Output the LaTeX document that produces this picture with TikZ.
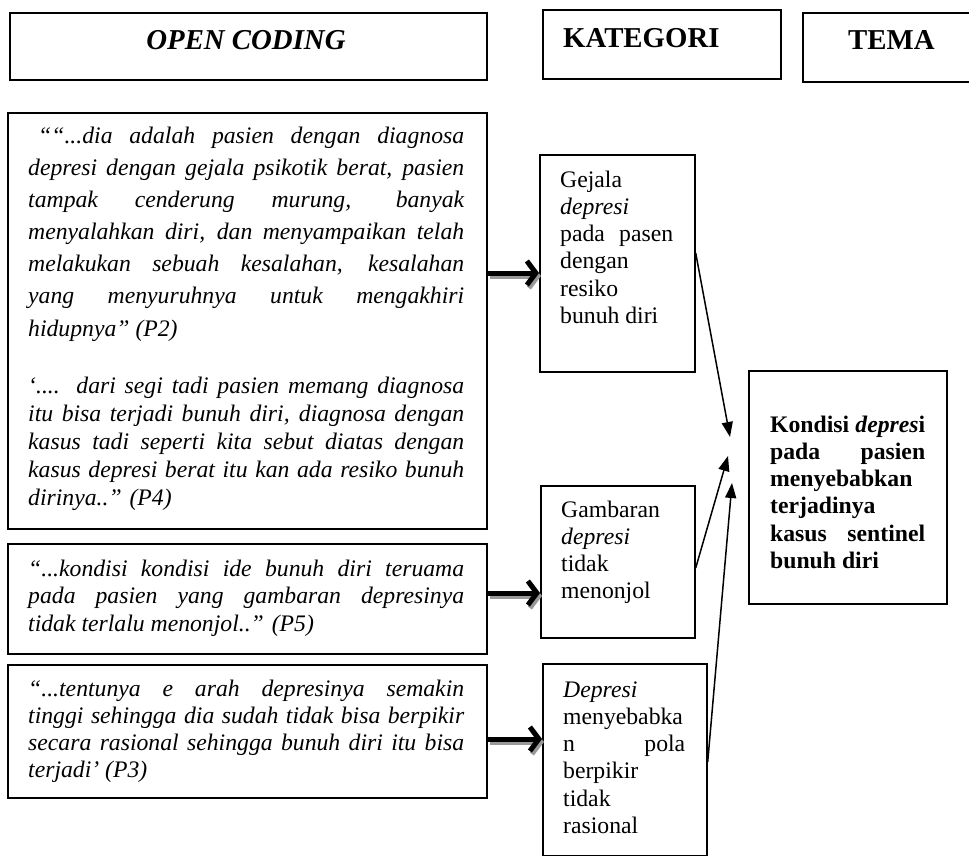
\documentclass[tikz,border=0pt]{standalone}
\usepackage{fontspec}
\setmainfont{Liberation Serif}
\usetikzlibrary{arrows.meta}
\newcommand{\J}[2]{\makebox[#1][s]{#2}}
\begin{document}
\begin{tikzpicture}[x=1pt,y=-1pt,
  box/.style={draw, line width=1.7pt, inner sep=0pt, anchor=north west},
  txt/.style={anchor=base west, inner sep=0pt},
  head/.style={inner sep=0pt, font=\fontsize{28.8}{30}\selectfont\bfseries},
  fatarrow/.style={line width=5pt, -{Straight Barb[length=9pt,width=24pt]}},
  fatshadow/.style={fatarrow, draw=black!40, transform canvas={shift={(2pt,-3pt)}}},
  slimarrow/.style={line width=1.5pt, -{Triangle[length=15pt,width=11pt]}}]
\useasboundingbox (0,0) rectangle (969,856);

% headers
\node[box, minimum width=477pt, minimum height=67pt] (hopen) at (9,12) {};
\node[box, minimum width=238pt, minimum height=69pt] (hkat) at (542,9) {};
\node[box, minimum width=180pt, minimum height=69pt] (htema) at (802,12) {};
\node[head, anchor=base] (topen) at (246,50) {\itshape OPEN CODING};
\node[head, anchor=base west] (tkat) at (563,48) {KATEGORI};
\node[head, anchor=base west] (ttema) at (848,50) {TEMA};

% left boxes
\node[box, minimum width=479pt, minimum height=416pt] (box1) at (7,112) {};
\node[box, minimum width=479pt, minimum height=110pt] (box5) at (7,543) {};
\node[box, minimum width=479pt, minimum height=133pt] (box3) at (7,664) {};

\node[txt] (t1a) at (28,143) {\parbox[t]{436pt}{\fontsize{23.7}{32.2}\selectfont\itshape
\hspace*{10pt}\J{426pt}{““...dia adalah pasien dengan diagnosa}\\
\J{436pt}{depresi dengan gejala psikotik berat, pasien}\\
\J{436pt}{tampak cenderung murung, banyak}\\
\J{436pt}{menyalahkan diri, dan menyampaikan telah}\\
\J{436pt}{melakukan sebuah kesalahan, kesalahan}\\
\J{436pt}{yang menyuruhnya untuk mengakhiri}\\
hidupnya” (P2)}};

\node[txt] (t1b) at (28,393) {\parbox[t]{436pt}{\fontsize{23.7}{28}\selectfont\itshape
\J{436pt}{‘.... dari segi tadi pasien memang diagnosa}\\
\J{436pt}{itu bisa terjadi bunuh diri, diagnosa dengan}\\
\J{436pt}{kasus tadi seperti kita sebut diatas dengan}\\
\J{436pt}{kasus depresi berat itu kan ada resiko bunuh}\\
dirinya..” (P4)}};

\node[txt] (t5) at (28,576) {\parbox[t]{436pt}{\fontsize{23.7}{27.5}\selectfont\itshape
\J{436pt}{“...kondisi kondisi ide bunuh diri teruama}\\
\J{436pt}{pada pasien yang gambaran depresinya}\\
tidak terlalu menonjol..” (P5)}};

\node[txt] (t3) at (28,696) {\parbox[t]{436pt}{\fontsize{23.7}{27.3}\selectfont\itshape
\J{436pt}{“...tentunya e arah depresinya semakin}\\
\J{436pt}{tinggi sehingga dia sudah tidak bisa berpikir}\\
\J{436pt}{secara rasional sehingga bunuh diri itu bisa}\\
terjadi’ (P3)}};

% category boxes
\node[box, minimum width=155pt, minimum height=217pt] (gejala) at (539,154) {};
\node[box, minimum width=154pt, minimum height=152pt] (gambaran) at (540,485) {};
\node[box, minimum width=164pt, minimum height=192pt] (depresi) at (542,663) {};

\node[txt] (tg) at (560,187) {\parbox[t]{113pt}{\fontsize{23.7}{27.3}\selectfont
Gejala\\
\textit{depresi}\\
\J{113pt}{pada pasen}\\
dengan\\
resiko\\
bunuh diri}};

\node[txt] (tb) at (561,517) {\parbox[t]{113pt}{\fontsize{23.7}{27.3}\selectfont
Gambaran\\
\textit{depresi}\\
tidak\\
menonjol}};

\node[txt] (td) at (563,697) {\parbox[t]{122pt}{\fontsize{23.7}{27.3}\selectfont
\textit{Depresi}\\
menyebabka\\
\J{122pt}{n pola}\\
berpikir\\
tidak\\
rasional}};

% theme box
\node[box, minimum width=198pt, minimum height=233pt] (kondisi) at (748,370) {};
\node[txt] (tk) at (770,432) {\parbox[t]{155pt}{\fontsize{23.7}{27.3}\selectfont\bfseries
\J{155pt}{Kondisi \textit{depres}i}\\
\J{155pt}{pada pasien}\\
menyebabkan\\
terjadinya\\
\J{155pt}{kasus sentinel}\\
bunuh diri}};

% thick arrows with shadow
\draw[fatshadow] (box1.east |- 0,273) -- (gejala.west |- 0,273);
\draw[fatarrow] (box1.east |- 0,273) -- (gejala.west |- 0,273);
\draw[fatshadow] (box5.east |- 0,593) -- (gambaran.west |- 0,593);
\draw[fatarrow] (box5.east |- 0,593) -- (gambaran.west |- 0,593);
\draw[fatshadow] (box3.east |- 0,739) -- (depresi.west |- 0,739);
\draw[fatarrow] (box3.east |- 0,739) -- (depresi.west |- 0,739);

% thin arrows to theme
\coordinate (k1) at (730,437);
\coordinate (k2) at (728,456);
\coordinate (k3) at (732,483);
\draw[slimarrow] (gejala.east |- 0,253) -- (k1);
\draw[slimarrow] (gambaran.east |- 0,568) -- (k2);
\draw[slimarrow] (depresi.east |- 0,762) -- (k3);
\end{tikzpicture}
\end{document}
